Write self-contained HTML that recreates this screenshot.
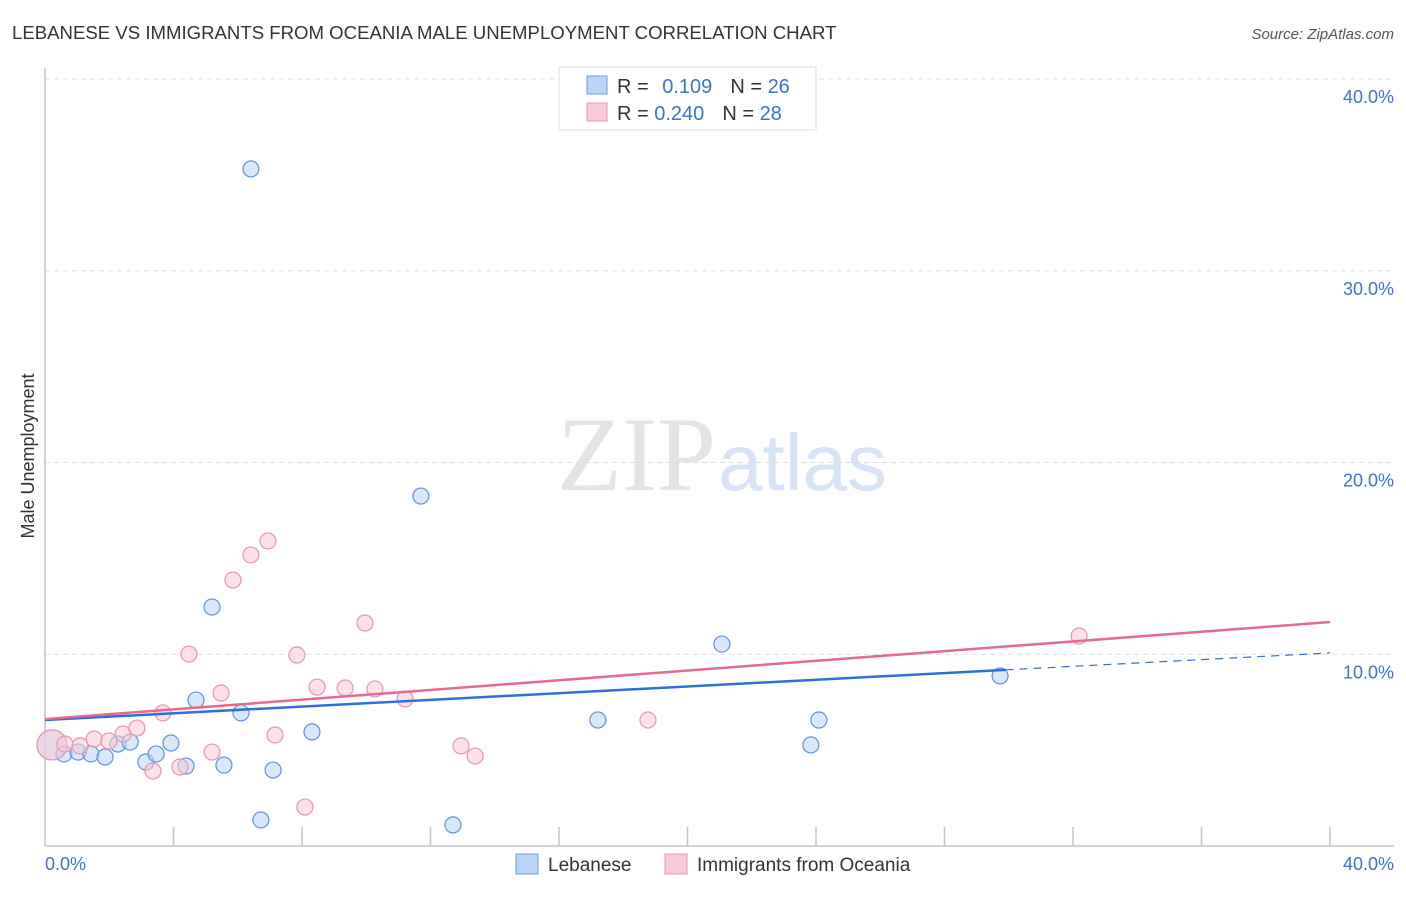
<!DOCTYPE html>
<html><head><meta charset="utf-8"><style>
body{margin:0;background:#fff;font-family:"Liberation Sans",sans-serif}
</style></head><body>
<svg width="1406" height="892" xmlns="http://www.w3.org/2000/svg" font-family="Liberation Sans, sans-serif">
<text x="12" y="39" font-size="18.6" fill="#333">LEBANESE VS IMMIGRANTS FROM OCEANIA MALE UNEMPLOYMENT CORRELATION CHART</text>
<text x="1394" y="39" font-size="15" fill="#555" font-style="italic" text-anchor="end">Source: ZipAtlas.com</text>
<text x="716" y="490" font-size="106" fill="#e4e4e4" text-anchor="end" font-family="Liberation Serif, serif">ZIP</text>
<text x="718" y="490" font-size="80" fill="#d6e4f5">atlas</text>
<g id="grid"></g>
<g id="axes"></g>
<g id="marks"></g>
<text transform="translate(34,456) rotate(-90)" font-size="18" fill="#333" text-anchor="middle">Male Unemployment</text>
<text x="45" y="870" font-size="18" fill="#3b73d1">0.0%</text>
<text x="1394" y="870" font-size="18" fill="#3b73d1" text-anchor="end">40.0%</text>
<g>
<rect x="559" y="67" width="257" height="63" fill="#fff" stroke="#ddd"/>
<rect x="587" y="76" width="20" height="18" fill="#b9d4f5" stroke="#6a9be0"/>
<rect x="587" y="103" width="20" height="18" fill="#f9c9d6" stroke="#e895ae"/>
<text x="617" y="93" font-size="20" fill="#333">R = <tspan fill="#3b73d1" dx="8">0.109</tspan><tspan dx="18">N = </tspan><tspan fill="#3b73d1">26</tspan></text>
<text x="617" y="120" font-size="20" fill="#333">R = <tspan fill="#3b73d1">0.240</tspan><tspan dx="18">N = </tspan><tspan fill="#3b73d1">28</tspan></text>
</g>
<g>
<rect x="516" y="854" width="22" height="20" fill="#b9d4f5" stroke="#6a9be0"/>
<text x="548" y="871" font-size="19" fill="#333">Lebanese</text>
<rect x="665" y="854" width="22" height="20" fill="#f9c9d6" stroke="#e895ae"/>
<text x="697" y="871" font-size="19" fill="#333">Immigrants from Oceania</text>
</g>
</svg>
<script>
const yTicks=[10,20,30,40];
const yTickLabels=["10.0%","20.0%","30.0%","40.0%"];
const blueX=[0.22,0.59,1.03,1.43,1.87,2.27,2.65,3.14,3.46,3.92,4.39,4.70,5.20,5.57,6.10,6.41,6.72,7.10,8.31,11.70,12.70,17.21,21.07,23.84,24.09,29.73];
const blueY=[5.27,4.80,4.90,4.80,4.64,5.32,5.42,4.38,4.80,5.37,4.17,7.61,12.46,4.22,6.94,35.31,1.36,3.96,5.95,18.25,1.10,6.57,10.53,5.27,6.57,8.87];
const pinkX=[0.22,0.62,1.09,1.53,1.99,2.43,2.86,3.36,3.67,4.20,4.48,5.20,5.48,5.85,6.41,6.94,7.16,7.84,8.09,8.47,9.34,9.96,10.27,11.21,12.95,13.39,18.77,32.19];
const pinkY=[5.27,5.32,5.22,5.58,5.48,5.84,6.15,3.91,6.94,4.12,10.01,4.90,7.98,13.87,15.18,15.91,5.79,9.96,2.03,8.29,8.24,11.63,8.19,7.67,5.22,4.69,6.57,10.95];
const blueTrend=[6.57,10.07];
const pinkTrend=[6.62,11.68];
const NS="http://www.w3.org/2000/svg";
const xs=v=>45+v/40*1285, ys=v=>846-v/40*767;
function mk(tag,attrs,parent){const e=document.createElementNS(NS,tag);for(const k in attrs)e.setAttribute(k,attrs[k]);document.getElementById(parent).appendChild(e);return e;}
yTicks.forEach((t,i)=>{
 const g=mk('line',{x1:45,x2:1394,y1:ys(t),y2:ys(t),stroke:'#ddd','stroke-dasharray':'5,4'},'grid');
 
 
 const l=mk('text',{x:1394,y:ys(t)+24,'font-size':18,fill:'#3b73d1','text-anchor':'end'},'grid');
 l.textContent=yTickLabels[i];
 
 
});
let a=mk('line',{x1:45,x2:45,y1:68,y2:846,stroke:'#c4c4c4','stroke-width':1.5},'axes');


a=mk('line',{x1:45,x2:1394,y1:846,y2:846,stroke:'#c4c4c4','stroke-width':1.5},'axes');


for(let i=1;i<=10;i++){const t=mk('line',{x1:xs(i*4),x2:xs(i*4),y1:827,y2:846,stroke:'#c4c4c4','stroke-width':1.5},'axes');
 
 }
function dots(X,Y,fill,stroke,name){X.forEach((x,i)=>{
 const c=mk('circle',{cx:xs(x),cy:ys(Y[i]),r:i===0?15:8,fill:fill,'fill-opacity':0.55,stroke:stroke,'stroke-width':1.2},'marks');
 
 });}
dots(blueX,blueY,'#b9d4f5','#5e92dc','lebanese-point');
dots(pinkX,pinkY,'#f9c9d6','#e895ae','oceania-point');
const bxEnd=29.9, byEnd=blueTrend[0]+(blueTrend[1]-blueTrend[0])*bxEnd/40;
let l=mk('line',{x1:xs(0),y1:ys(blueTrend[0]),x2:xs(bxEnd),y2:ys(byEnd),stroke:'#2f6fd6','stroke-width':2.5},'marks');


l=mk('line',{x1:xs(bxEnd),y1:ys(byEnd),x2:xs(40),y2:ys(blueTrend[1]),stroke:'#2f6fd6','stroke-width':1.2,'stroke-dasharray':'8,6'},'marks');


l=mk('line',{x1:xs(0),y1:ys(pinkTrend[0]),x2:xs(40),y2:ys(pinkTrend[1]),stroke:'#e46a92','stroke-width':2.5},'marks');


</script>
</body></html>
